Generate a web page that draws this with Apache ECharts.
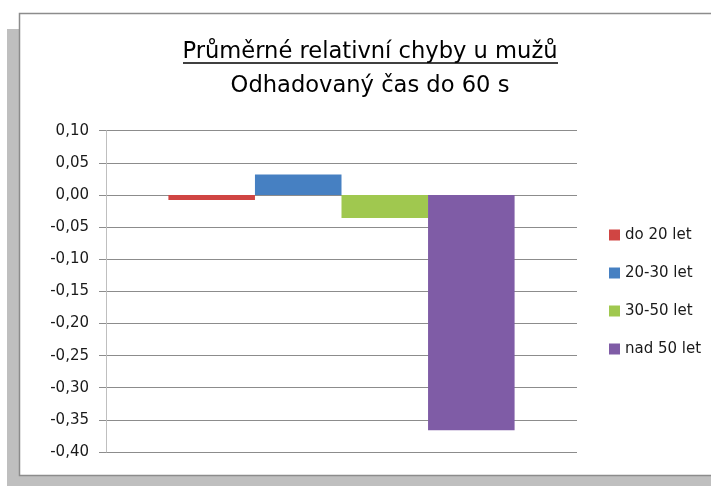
<!DOCTYPE html>
<html>
<head>
<meta charset="utf-8">
<script src="https://cdn.jsdelivr.net/npm/echarts@6/dist/echarts.min.js"></script>
<style>
  html, body { margin: 0; padding: 0; background: #fff; }
  #chart { width: 711px; height: 486px; }
</style>
</head>
<body>
<div id="chart"></div>
<script>
// data
const categories = [""];
const seriesNames = ["do 20 let", "20-30 let", "30-50 let", "nad 50 let"];
const seriesValues = [-0.008, 0.032, -0.036, -0.366];
const seriesColors = ["#d04543", "#4680c2", "#a0c84f", "#7f5ca6"];
const yTicks = { min: -0.4, max: 0.1, step: 0.05 };
const titleLines = ["Průměrné relativní chyby u mužů", "Odhadovaný čas do 60 s"];

const font = "DejaVu Sans";
let myChart = echarts.init(document.getElementById("chart"));

let series = [];
for (let i = 0; i < seriesNames.length; i++) {
  series.push({
    name: seriesNames[i],
    type: "bar",
    data: [seriesValues[i]],
    barGap: "0%",
    barCategoryGap: "26.5%",
    itemStyle: { color: seriesColors[i] }
  });
}

let option = {
  animation: false,
  textStyle: { fontFamily: font },
  graphic: [
    // shadow of the chart box
    { type: "rect", z: -10, shape: { x: 7, y: 29, width: 704, height: 457 }, style: { fill: "#bfbfbf" } },
    // white chart box
    { type: "rect", z: -9, shape: { x: 19.5, y: 13.5, width: 720, height: 462 }, style: { fill: "#fff", stroke: "#8c8c8c", lineWidth: 1.5 } },
    // title underline
    { type: "line", z: 5, shape: { x1: 183, y1: 63, x2: 558, y2: 63 }, style: { stroke: "#000", lineWidth: 1.5 } }
  ],
  title: [
    {
      text: titleLines[0], left: 365, top: 36, textAlign: "center",
      textStyle: { fontFamily: font, fontSize: 22.6, fontWeight: "normal", color: "#000" }
    },
    {
      text: titleLines[1], left: 365, top: 70, textAlign: "center",
      textStyle: { fontFamily: font, fontSize: 22.6, fontWeight: "normal", color: "#000" }
    }
  ],
  legend: {
    orient: "vertical",
    left: 604,
    top: 222,
    icon: "rect",
    itemWidth: 11,
    itemHeight: 11,
    itemGap: 22,
    data: seriesNames,
    textStyle: { fontFamily: font, fontSize: 15, color: "#1a1a1a", lineHeight: 16 }
  },
  grid: { left: 106, right: 134, top: 130.7, bottom: 34, containLabel: false },
  xAxis: {
    type: "category",
    data: categories,
    axisLine: { show: false },
    axisTick: { show: false },
    axisLabel: { show: false }
  },
  yAxis: {
    type: "value",
    min: yTicks.min,
    max: yTicks.max,
    interval: yTicks.step,
    axisLine: { show: true, lineStyle: { color: "#bfbfbf", width: 1 } },
    axisTick: { show: true, length: 7, lineStyle: { color: "#8c8c8c" } },
    axisLabel: {
      margin: 17,
      fontFamily: font,
      fontSize: 15,
      color: "#1a1a1a",
      formatter: function (v) { return v.toFixed(2).replace(".", ","); }
    },
    splitLine: { lineStyle: { color: "#8c8c8c", width: 1 } }
  },
  series: series
};

myChart.setOption(option);
</script>
</body>
</html>
